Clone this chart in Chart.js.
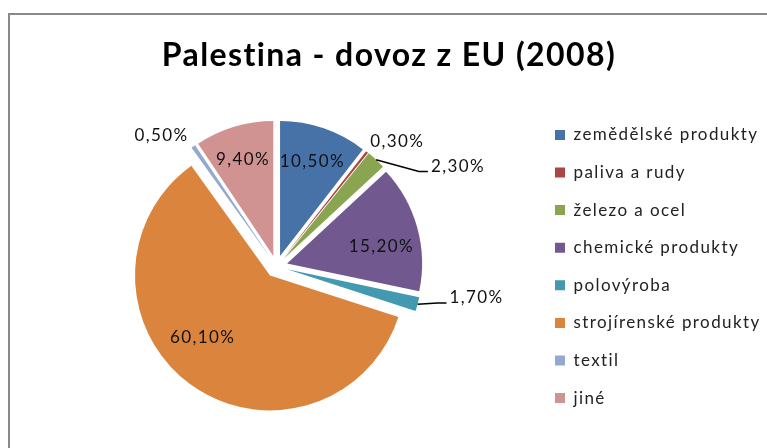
<!DOCTYPE html>
<html>
<head>
<meta charset="utf-8">
<script src="https://cdn.jsdelivr.net/npm/chart.js@4"></script>
<style>
  html, body { margin: 0; padding: 0; background: #fff; }
  #wrap { position: relative; width: 767px; height: 448px; overflow: hidden; }
  #frame { position: absolute; left: 8px; top: 13px; width: 900px; height: 600px; border: 2px solid #898989; }
  #chart { position: absolute; left: 0; top: 0; }
</style>
</head>
<body>
<div id="wrap">
  <div id="frame"></div>
  <canvas id="chart" width="767" height="448"></canvas>
</div>
<script>
const TITLE = "Palestina - dovoz z EU (2008)";

const categories = [
  "zemědělské produkty",
  "paliva a rudy",
  "železo a ocel",
  "chemické produkty",
  "polovýroba",
  "strojírenské produkty",
  "textil",
  "jiné",
];
const shares = [10.5, 0.3, 2.3, 15.2, 1.7, 60.1, 0.5, 9.4];

const sliceColors = ["#4672a8", "#aa4644", "#8aa54f", "#71588f", "#4299b0", "#db843d", "#93a9d0", "#d19392"];
const EXPLODE = 11; // px each slice is pulled away from the centre

// where each percent label sits: radius as share of pie radius, angle shift in degrees
const labelPlacement = [
  { r: 0.82, shift: 0 },
  { r: 1.29, shift: 5.6 },
  { r: 1.535, shift: 18.1, leader: true },
  { r: 0.79, shift: 4.8 },
  { r: 1.50, shift: -6, leader: true },
  { r: 0.76, shift: 9.8 },
  { r: 1.29, shift: -6.6 },
  { r: 0.83, shift: -0.5 },
];

function fmtPct(v) {
  return v.toFixed(2).replace(".", ",") + "%";
}

// the source text is spaced out a little wider than plain Lato
const spacing = {
  id: "spacing",
  beforeLayout(chart) { chart.ctx.letterSpacing = "1.4px"; },
  beforeDraw(chart) { chart.ctx.letterSpacing = "1.4px"; },
};

// built-in offset also grows and trims the arcs, so shift the centres instead
function shiftArcs(arcs, dir) {
  arcs.forEach((arc) => {
    const mid = (arc.startAngle + arc.endAngle) / 2;
    arc.x += dir * Math.cos(mid) * EXPLODE;
    arc.y += dir * Math.sin(mid) * EXPLODE;
  });
}

const explode = {
  id: "explode",
  beforeDatasetDraw(chart, args) { shiftArcs(args.meta.data, 1); },
  afterDatasetDraw(chart, args) { shiftArcs(args.meta.data, -1); },
};

const pctLabels = {
  id: "pctLabels",
  afterDatasetsDraw(chart) {
    const ctx = chart.ctx;
    const arcs = chart.getDatasetMeta(0).data;
    ctx.save();
    ctx.font = "17px Lato";
    ctx.fillStyle = "#111";
    ctx.textAlign = "center";
    ctx.textBaseline = "middle";
    arcs.forEach((arc, i) => {
      const place = labelPlacement[i];
      const R = arc.outerRadius;
      const mid = (arc.startAngle + arc.endAngle) / 2;
      const ang = mid + place.shift * Math.PI / 180;
      const x = arc.x + Math.cos(ang) * R * place.r;
      const y = arc.y + Math.sin(ang) * R * place.r;
      const text = fmtPct(shares[i]);
      ctx.fillText(text, x, y);

      if (place.leader) {
        const sx = arc.x + Math.cos(mid) * (EXPLODE + R);
        const sy = arc.y + Math.sin(mid) * (EXPLODE + R);
        const left = x - ctx.measureText(text).width / 2;
        ctx.beginPath();
        ctx.moveTo(sx, sy);
        ctx.lineTo(left - 12, y + 5);
        ctx.lineTo(left - 3, y + 5);
        ctx.strokeStyle = "#000";
        ctx.lineWidth = 1.5;
        ctx.stroke();
      }
    });
    ctx.restore();
  },
};

new Chart(document.getElementById("chart"), {
  type: "pie",
  data: {
    labels: categories,
    datasets: [{
      data: shares,
      backgroundColor: sliceColors,
      borderWidth: 0,
      hoverOffset: 0,
    }],
  },
  options: {
    responsive: false,
    animation: false,
    radius: 135,
    layout: {
      padding: { left: 18.6, right: 7.6, top: 0, bottom: 10 },
    },
    plugins: {
      title: {
        display: true,
        text: TITLE,
        color: "#000",
        font: { family: "Lato", size: 32, weight: "bold", lineHeight: 1.2 },
        padding: { top: 36.6, bottom: 20 },
      },
      legend: {
        position: "right",
        fullSize: false,
        maxWidth: 225,
        labels: {
          boxWidth: 10,
          boxHeight: 10,
          padding: 20.6,
          color: "#222",
          font: { family: "Lato", size: 17 },
        },
      },
      tooltip: { enabled: false },
    },
  },
  plugins: [spacing, explode, pctLabels],
});
</script>
</body>
</html>
